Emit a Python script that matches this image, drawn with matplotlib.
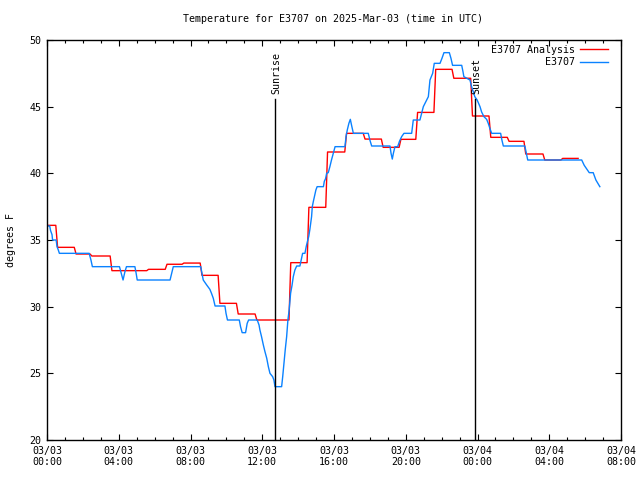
import matplotlib
matplotlib.use("Agg")
import matplotlib.pyplot as plt
import numpy as np

title = "Temperature for E3707 on 2025-Mar-03 (time in UTC)"
ylabel = "degrees F"
x_tick_labels = ["03/03\n00:00", "03/03\n04:00", "03/03\n08:00", "03/03\n12:00",
                 "03/03\n16:00", "03/03\n20:00", "03/04\n00:00", "03/04\n04:00", "03/04\n08:00"]
x_tick_hours = [0, 4, 8, 12, 16, 20, 24, 28, 32]
y_ticks = [20, 25, 30, 35, 40, 45, 50]

# Analysis (hours since 03/03 00:00 UTC, step starts)
red_t = [0, 0.54, 1.57, 2.45, 3.57, 5.61, 6.64, 7.58, 8.59, 9.59, 10.61, 11.65, 13.54,
         14.55, 15.59, 16.65, 17.68, 18.69, 19.68, 20.61, 21.62, 22.63, 23.67, 24.69,
         25.71, 26.64, 27.7, 28.7, 29.61]
red_v = [36.1, 34.45, 33.95, 33.8, 32.7, 32.8, 33.18, 33.27, 32.35, 30.25, 29.45, 29.0, 33.3,
         37.45, 41.6, 43.0, 42.57, 41.95, 42.55, 44.57, 47.8, 47.13, 44.3, 42.7,
         42.4, 41.45, 41.0, 41.12, 41.12]

# Observations
obs_t = [0.0, 0.15, 0.2, 0.28, 0.31, 0.51, 0.56, 0.63, 0.69, 2.35, 2.45, 2.53, 4.04, 4.14,
         4.24, 4.34, 4.43, 4.9, 4.97, 5.03, 6.86, 6.95, 7.04, 8.57, 8.62, 8.71, 8.9, 9.08,
         9.17, 9.27, 9.37, 9.92, 9.98, 10.06, 10.72, 10.79, 10.88, 11.07, 11.16, 11.24,
         11.72, 11.82, 11.87, 11.96, 12.06, 12.15, 12.25, 12.34, 12.43, 12.58, 12.65, 12.71,
         13.08, 13.14, 13.21, 13.28, 13.36, 13.43, 13.5, 13.58, 13.66, 13.73, 13.82, 13.92,
         14.1, 14.17, 14.25, 14.38, 14.45, 14.52, 14.59, 14.65, 14.7, 14.75, 14.79, 14.85,
         14.91, 14.99, 15.06, 15.41, 15.46, 15.53, 15.59, 15.68, 15.77, 15.86, 15.96, 16.06,
         16.61, 16.67, 16.74, 16.83, 16.91, 16.98, 17.08, 17.91, 18.0, 18.1, 19.12, 19.18,
         19.25, 19.31, 19.4, 19.55, 19.65, 19.77, 19.9, 20.33, 20.42, 20.79, 20.98, 21.26,
         21.35, 21.5, 21.59, 21.91, 22.02, 22.13, 22.43, 22.52, 22.61, 23.12, 23.19, 23.24,
         23.58, 23.67, 23.77, 23.85, 23.98, 24.14, 24.23, 24.36, 24.51, 24.6, 24.69, 24.79,
         25.29, 25.36, 25.44, 26.64, 26.8, 29.81, 29.95, 30.1, 30.23, 30.45, 30.6, 30.82]
obs_v = [36.05, 36.05, 35.7, 35.4, 35.0, 35.0, 34.5, 34.25, 34.0, 34.0, 33.5, 33.0, 33.0, 32.5,
         32.0, 32.6, 33.0, 33.0, 32.5, 32.0, 32.0, 32.5, 33.0, 33.0, 32.63, 32.0, 31.63, 31.3,
         31.0, 30.63, 30.05, 30.05, 29.5, 29.0, 29.0, 28.5, 28.05, 28.05, 28.75, 29.0,
         29.0, 28.63, 28.25, 27.75, 27.13, 26.63, 26.13, 25.5, 25.0, 24.75, 24.5, 24.0,
         24.0, 24.75, 25.75, 26.75, 27.75, 29.0, 29.75, 31.0, 31.6, 32.25, 32.75, 33.05,
         33.05, 33.5, 34.0, 34.0, 34.5, 34.9, 35.25, 35.75, 36.25, 36.75, 37.5, 37.9,
         38.25, 38.75, 39.0, 39.0, 39.4, 39.6, 40.0, 40.05, 40.5, 41.0, 41.5, 42.0,
         42.0, 42.75, 43.25, 43.75, 44.05, 43.6, 43.0, 43.0, 42.5, 42.05, 42.05, 41.5,
         41.07, 41.5, 42.0, 42.0, 42.4, 42.75, 43.0, 43.0, 44.0, 44.0, 45.0, 45.75,
         47.0, 47.5, 48.25, 48.25, 48.63, 49.05, 49.05, 48.63, 48.1, 48.1, 47.63, 47.25,
         47.0, 46.5, 46.1, 45.75, 45.5, 45.0, 44.6, 44.25, 44.05, 43.75, 43.37, 43.0,
         43.0, 42.5, 42.05, 42.05, 41.0, 41.0, 40.6, 40.3, 40.05, 40.05, 39.5, 39.0]

sunrise_h = 12.71
sunset_h = 23.86
event_top = 45.6

FONT = "DejaVu Sans Mono"
FS = 7.2
plt.rcParams['font.family'] = FONT
plt.rcParams['font.size'] = FS

# step line with short ramps at each change (as in the reference rendering)
ramp = 0.05
rx, ry = [red_t[0]], [red_v[0]]
for i in range(1, len(red_t)):
    t = red_t[i]
    if i == len(red_t) - 1:
        rx.append(t); ry.append(red_v[i - 1])
    else:
        rx += [t - ramp, t + ramp]
        ry += [red_v[i - 1], red_v[i]]

fig = plt.figure(figsize=(6.4, 4.8), dpi=100)
ax = fig.add_axes([47/640, 40/480, 574/640, 400/480])

ax.plot(rx, ry, color='#ff0000', lw=1.0, label='E3707 Analysis')
ax.plot(obs_t, obs_v, color='#0a82ff', lw=1.0, label='E3707')

for h, name in [(sunrise_h, 'Sunrise'), (sunset_h, 'Sunset')]:
    ax.plot([h, h], [20, event_top], color='black', lw=1.0)
    ax.text(h + 0.05, event_top + 0.35, name, rotation=90, ha='center', va='bottom',
            fontsize=FS)

ax.set_xlim(0, 32)
ax.set_ylim(20, 50)
ax.set_xticks(x_tick_hours)
ax.set_xticklabels(x_tick_labels)
ax.set_xticks(np.arange(0, 33, 1), minor=True)
ax.set_yticks(y_ticks)
ax.tick_params(axis='both', which='major', direction='in', length=4, width=0.8,
               top=True, right=True, labelsize=FS, pad=4)
ax.tick_params(axis='x', which='minor', direction='in', length=2.2, width=0.8,
               top=True, bottom=True)
for s in ax.spines.values():
    s.set_linewidth(1.0)

ax.set_ylabel(ylabel, fontsize=FS, labelpad=10)
fig.text(333/640, 1 - 19/480, title, ha='center', va='center', fontsize=FS)

ax.legend(loc='upper right', frameon=False, markerfirst=False, fontsize=FS,
          handlelength=2.8, handletextpad=0.5, labelspacing=0.25,
          borderaxespad=1.0, borderpad=0.0, bbox_to_anchor=(0.9948, 1.0125))

fig.savefig("out.png", dpi=100)
